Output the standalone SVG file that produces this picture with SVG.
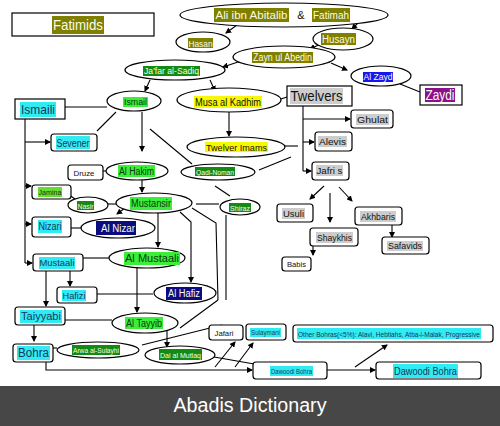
<svg xmlns="http://www.w3.org/2000/svg" width="500" height="426" viewBox="0 0 500 426">
<defs>
<marker id="ah" markerWidth="6" markerHeight="6" refX="5" refY="3" orient="auto" markerUnits="userSpaceOnUse">
<path d="M0,0 L6,3 L0,6 z" fill="#000"/>
</marker>
<style>
.n{fill:#fff;stroke:#000;stroke-width:1.2}
.l{stroke:#000;stroke-width:1.1;fill:none}
.a{marker-end:url(#ah)}
text{font-family:"Liberation Sans",Arial,sans-serif;text-anchor:middle}
.ol{fill:#7f7f00}.gr{fill:#3aee3a}.dg{fill:#138a13}.cy{fill:#30ecf2}.ye{fill:#f8f800}.gy{fill:#cdcdcd}.nv{fill:#0c0c80}.bl{fill:#1616f0}.pu{fill:#8a1090}.lg{fill:#66dd33}
.tw{fill:#fbfbe8}.tk{fill:#111}.tc{fill:#17375e}.tg{fill:#0c3a0c}
</style>
</defs>
<rect x="0" y="0" width="500" height="426" fill="#fff"/>

<g id="connectors">
<path class="l a" d="M237,25 L226,33"/>
<path class="l a" d="M358,23 L352,29"/>
<path class="l a" d="M327,41 L310,49"/>
<path class="l a" d="M241,61 L223,67"/>
<path class="l a" d="M331,63 L347,70"/>
<path class="l" d="M400,84 L420,92"/>
<path class="l a" d="M150,80 L145,91"/>
<path class="l a" d="M210,80 L215,91"/>
<path class="l" d="M65,107 L107,107"/>
<path class="l" d="M281,99 L287,97"/>
<path class="l a" d="M229,112 L229,136"/>
<path class="l" d="M303,106 L303,171"/>
<path class="l a" d="M303,119 L350,119"/>
<path class="l a" d="M303,142 L314,142"/>
<path class="l a" d="M303,171 L311,171"/>
<path class="l" d="M285,146 L298,146"/>
<path class="l" d="M259,170 L291,157"/>
<path class="l" d="M150,129 L192,164"/>
<path class="l" d="M215,186 L230,196"/>
<path class="l" d="M196,204 L219,204"/>
<path class="l" d="M116,112 L97,131"/>
<path class="l a" d="M142,112 L142,151"/>
<path class="l" d="M25,119 L25,263"/>
<path class="l a" d="M25,263 L32,263"/>
<path class="l a" d="M25,142 L50,142"/>
<path class="l a" d="M25,186 L31,186"/>
<path class="l a" d="M25,224 L31,224"/>
<path class="l" d="M103,171 L106,171"/>
<path class="l a" d="M142,180 L142,192"/>
<path class="l" d="M65,192 L75,199"/>
<path class="l" d="M108,204 L117,204"/>
<path class="l a" d="M125,208 L117,214"/>
<path class="l" d="M71,228 L82,228"/>
<path class="l a" d="M158,213 L158,247"/>
<path class="l a" d="M180,212 L191,222 L191,282"/>
<path class="l" d="M192,208 L216,223 L218,300"/>
<path class="l" d="M226,215 L226,300"/>
<path class="l" d="M218,300 L180,328"/>
<path class="l" d="M222,325 L142,345"/>
<path class="l" d="M83,258 L109,258"/>
<path class="l a" d="M70,271 L70,286"/>
<path class="l a" d="M46,271 L46,306"/>
<path class="l" d="M97,294 L153,294"/>
<path class="l a" d="M137,267 L137,312"/>
<path class="l" d="M65,320 L112,320"/>
<path class="l a" d="M34,325 L34,341"/>
<path class="l" d="M53,348 L57,348"/>
<path class="l a" d="M167,330 L167,347"/>
<path class="l a" d="M46,362 L46,370 L252,370"/>
<path class="l a" d="M327,370 L375,370"/>
<path class="l" d="M214,357 L260,365"/>
<path class="l a" d="M215,367 L235,342"/>
<path class="l a" d="M235,367 L253,343"/>
<path class="l a" d="M355,367 L387,345"/>
<path class="l a" d="M324,186 L310,199"/>
<path class="l a" d="M339,187 L352,201"/>
<path class="l a" d="M330,193 L330,222"/>
<path class="l a" d="M392,225 L392,237"/>
<path class="l a" d="M313,246 L313,255"/>
</g>

<g id="fatimids"><rect class="n" x="12" y="13" width="142" height="23"/><rect class="ol" x="52" y="16" width="52" height="18"/><text class="tw" x="78" y="30" font-size="15" textLength="50" lengthAdjust="spacingAndGlyphs">Fatimids</text></g>
<g id="ali"><ellipse class="n" cx="284" cy="15" rx="104" ry="12"/><rect class="ol" x="214" y="8" width="75" height="14"/><text class="tw" x="251.5" y="19" font-size="11.5" textLength="72" lengthAdjust="spacingAndGlyphs">Ali ibn Abitalib</text><text class="tk" x="301" y="19" font-size="11">&amp;</text><rect class="ol" x="312" y="8" width="38" height="14"/><text class="tw" x="331" y="19" font-size="11.5" textLength="36" lengthAdjust="spacingAndGlyphs">Fatimah</text></g>
<g id="hasan"><ellipse class="n" cx="203" cy="42" rx="27" ry="10"/><rect class="ol" x="188" y="38" width="25" height="10"/><text class="tw" x="200.5" y="46.5" font-size="9" textLength="24" lengthAdjust="spacingAndGlyphs">Hasan</text></g>
<g id="husayn"><ellipse class="n" cx="343" cy="39" rx="30" ry="11"/><rect class="ol" x="321" y="33" width="35" height="12"/><text class="tw" x="338.5" y="42.5" font-size="10" textLength="33" lengthAdjust="spacingAndGlyphs">Husayn</text></g>
<g id="zayn"><ellipse class="n" cx="284" cy="57" rx="51" ry="11"/><rect class="ol" x="252" y="52" width="61" height="11"/><text class="tw" x="282.5" y="61" font-size="10" textLength="59" lengthAdjust="spacingAndGlyphs">Zayn ul Abedin</text></g>
<g id="jafar"><ellipse class="n" cx="175" cy="70" rx="50" ry="10"/><rect class="dg" x="143" y="66" width="57" height="10"/><text class="tw" x="171.5" y="74" font-size="9" textLength="55" lengthAdjust="spacingAndGlyphs">Ja'far al-Sadiq</text></g>
<g id="ismail"><ellipse class="n" cx="134" cy="101" rx="27" ry="10"/><rect class="gr" x="123" y="97" width="25" height="10"/><text class="tg" x="135.5" y="105" font-size="9" textLength="23" lengthAdjust="spacingAndGlyphs">Ismail</text></g>
<g id="ismaili"><rect class="n" x="15" y="99" width="50" height="20"/><rect class="cy" x="20" y="102" width="36" height="15"/><text class="tc" x="38" y="114" font-size="13" textLength="34" lengthAdjust="spacingAndGlyphs">Ismaili</text></g>
<g id="musa"><ellipse class="n" cx="229" cy="100" rx="52" ry="12"/><rect class="ye" x="194" y="96" width="68" height="12"/><text class="tk" x="228" y="105.5" font-size="10" textLength="66" lengthAdjust="spacingAndGlyphs">Musa al Kadhim</text></g>
<g id="twelvers"><rect class="n" x="287" y="86" width="65" height="20"/><rect class="gy" x="290" y="88" width="53" height="16"/><text class="tk" x="316.5" y="100.5" font-size="14" textLength="52" lengthAdjust="spacingAndGlyphs">Twelvers</text></g>
<g id="alzayd"><ellipse class="n" cx="381" cy="76" rx="30" ry="10"/><rect class="bl" x="363" y="72" width="30" height="10"/><text class="tw" x="378" y="80" font-size="9" textLength="29" lengthAdjust="spacingAndGlyphs">Al Zayd</text></g>
<g id="zaydi"><rect class="n" x="420" y="85" width="42" height="20"/><rect class="pu" x="425" y="88" width="30" height="14"/><text class="tw" x="440" y="99.5" font-size="14" textLength="29" lengthAdjust="spacingAndGlyphs">Zaydi</text></g>
<g id="ghulat"><rect class="n" x="351" y="110" width="42" height="18" rx="3"/><rect class="gy" x="356" y="114" width="33" height="11"/><text class="tk" x="372.5" y="122.5" font-size="9" textLength="31" lengthAdjust="spacingAndGlyphs">Ghulat</text></g>
<g id="alevis"><rect class="n" x="315" y="132" width="37" height="19" rx="3"/><rect class="gy" x="318" y="136" width="29" height="11"/><text class="tk" x="332.5" y="144.5" font-size="9" textLength="27" lengthAdjust="spacingAndGlyphs">Alevis</text></g>
<g id="jafris"><rect class="n" x="312" y="162" width="37" height="18" rx="3"/><rect class="gy" x="316" y="165" width="27" height="11"/><text class="tk" x="329.5" y="173.5" font-size="9" textLength="26" lengthAdjust="spacingAndGlyphs">Jafri s</text></g>
<g id="twelverimams"><ellipse class="n" cx="236" cy="147" rx="49" ry="10"/><rect class="ye" x="205" y="142" width="63" height="10"/><text class="tk" x="236.5" y="150.5" font-size="9.5" textLength="61" lengthAdjust="spacingAndGlyphs">Twelver Imams</text></g>
<g id="qadinoman"><ellipse class="n" cx="218" cy="172" rx="37" ry="8"/><rect class="dg" x="195" y="167" width="40" height="9"/><text class="tw" x="215" y="174.5" font-size="7" textLength="38" lengthAdjust="spacingAndGlyphs">Qadi-Noman</text></g>
<g id="shiraz"><ellipse class="n" cx="240" cy="207" rx="20" ry="8"/><rect class="dg" x="229" y="203" width="22" height="9"/><text class="tw" x="240" y="210.5" font-size="7" textLength="20" lengthAdjust="spacingAndGlyphs">Shiraz</text></g>
<g id="usuli"><rect class="n" x="277" y="204" width="36" height="18" rx="3"/><rect class="gy" x="282" y="208" width="23" height="11"/><text class="tk" x="293.5" y="216.5" font-size="9" textLength="21" lengthAdjust="spacingAndGlyphs">Usuli</text></g>
<g id="akhbaris"><rect class="n" x="355" y="207" width="47" height="18" rx="3"/><rect class="gy" x="360" y="211" width="36" height="11"/><text class="tk" x="378" y="219.5" font-size="9" textLength="34" lengthAdjust="spacingAndGlyphs">Akhbaris</text></g>
<g id="shaykhis"><rect class="n" x="310" y="228" width="48" height="18" rx="3"/><rect class="gy" x="316" y="232" width="37" height="11"/><text class="tk" x="334.5" y="240.5" font-size="9" textLength="35" lengthAdjust="spacingAndGlyphs">Shaykhis</text></g>
<g id="safavids"><rect class="n" x="382" y="237" width="47" height="17" rx="3"/><rect class="gy" x="387" y="241" width="36" height="10"/><text class="tk" x="405" y="249" font-size="9" textLength="34" lengthAdjust="spacingAndGlyphs">Safavids</text></g>
<g id="babis"><rect class="n" x="282" y="257" width="29" height="14" rx="3"/><text class="tk" x="296.5" y="267" font-size="7" textLength="19" lengthAdjust="spacingAndGlyphs">Babis</text></g>
<g id="sevener"><rect class="n" x="51" y="134" width="46" height="17" rx="3"/><rect class="cy" x="56" y="136" width="34" height="13"/><text class="tc" x="73" y="146.5" font-size="10" textLength="33" lengthAdjust="spacingAndGlyphs">Sevener</text></g>
<g id="druze"><rect class="n" x="68" y="165" width="35" height="15" rx="3"/><text class="tk" x="84" y="175.5" font-size="7.5" textLength="21" lengthAdjust="spacingAndGlyphs">Druze</text></g>
<g id="alhakim"><ellipse class="n" cx="137" cy="171" rx="31" ry="9"/><rect class="gr" x="118" y="165" width="37" height="12"/><text class="tg" x="136.5" y="174.5" font-size="10" textLength="35" lengthAdjust="spacingAndGlyphs">Al Hakim</text></g>
<g id="jamina"><rect class="n" x="32" y="185" width="39" height="14" rx="3"/><rect class="lg" x="38" y="187" width="24" height="10"/><text class="tg" x="50" y="194.5" font-size="6.5" textLength="23" lengthAdjust="spacingAndGlyphs">Jamina</text></g>
<g id="nasir"><ellipse class="n" cx="88" cy="205" rx="20" ry="8"/><rect class="dg" x="77" y="201" width="17" height="9"/><text class="tw" x="85.5" y="208.5" font-size="6.5" textLength="16" lengthAdjust="spacingAndGlyphs">Nasir</text></g>
<g id="mustansir"><ellipse class="n" cx="154" cy="203" rx="38" ry="10"/><rect class="gr" x="130" y="197" width="42" height="13"/><text class="tg" x="151" y="207" font-size="11" textLength="40" lengthAdjust="spacingAndGlyphs">Mustansir</text></g>
<g id="nizari"><rect class="n" x="32" y="217" width="39" height="20" rx="3"/><rect class="cy" x="38" y="220" width="24" height="13"/><text class="tc" x="50" y="230" font-size="10" textLength="23" lengthAdjust="spacingAndGlyphs">Nizari</text></g>
<g id="alnizar"><ellipse class="n" cx="118" cy="228" rx="37" ry="10"/><rect class="nv" x="96" y="221" width="40" height="14"/><text class="tw" x="118" y="232" font-size="10" textLength="34" lengthAdjust="spacingAndGlyphs">Al Nizar</text></g>
<g id="mustaali"><rect class="n" x="33" y="254" width="50" height="17" rx="3"/><rect class="cy" x="39" y="257" width="36" height="12"/><text class="tc" x="57" y="266" font-size="9.5" textLength="35" lengthAdjust="spacingAndGlyphs">Mustaali</text></g>
<g id="almustaali"><ellipse class="n" cx="147" cy="258" rx="38" ry="10"/><rect class="gr" x="124" y="252" width="56" height="13"/><text class="tg" x="152" y="262" font-size="10" textLength="54" lengthAdjust="spacingAndGlyphs">Al Mustaali</text></g>
<g id="hafizi"><rect class="n" x="57" y="287" width="40" height="16" rx="3"/><rect class="cy" x="62" y="290" width="24" height="11"/><text class="tc" x="74" y="298.5" font-size="9.5" textLength="23" lengthAdjust="spacingAndGlyphs">Hafizi</text></g>
<g id="alhafiz"><ellipse class="n" cx="185" cy="293" rx="31" ry="10"/><rect class="nv" x="166" y="287" width="36" height="13"/><text class="tw" x="184" y="297" font-size="10" textLength="32" lengthAdjust="spacingAndGlyphs">Al Hafiz</text></g>
<g id="taiyyabi"><rect class="n" x="15" y="307" width="50" height="18" rx="3"/><rect class="cy" x="20" y="310" width="42" height="13"/><text class="tc" x="41" y="320" font-size="10" textLength="40" lengthAdjust="spacingAndGlyphs">Taiyyabi</text></g>
<g id="altayyib"><ellipse class="n" cx="145" cy="323" rx="33" ry="10"/><rect class="gr" x="125" y="317" width="38" height="12"/><text class="tg" x="144" y="326.5" font-size="10" textLength="36" lengthAdjust="spacingAndGlyphs">Al Tayyib</text></g>
<g id="bohra"><rect class="n" x="13" y="344" width="40" height="18" rx="3"/><rect class="cy" x="17" y="346" width="33" height="14"/><text class="tc" x="33.5" y="357" font-size="12" textLength="31" lengthAdjust="spacingAndGlyphs">Bohra</text></g>
<g id="arwa"><ellipse class="n" cx="98" cy="350" rx="41" ry="8"/><rect class="dg" x="72" y="345" width="48" height="10"/><text class="tw" x="96" y="352.5" font-size="7" textLength="46" lengthAdjust="spacingAndGlyphs">Arwa al-Sulayhi</text></g>
<g id="daialmutlaq"><ellipse class="n" cx="180" cy="355" rx="35" ry="9"/><rect class="dg" x="159" y="349" width="43" height="11"/><text class="tw" x="180.5" y="357.5" font-size="8" textLength="41" lengthAdjust="spacingAndGlyphs">Dai al Mutlaq</text></g>
<g id="jafari"><rect class="n" x="209" y="325" width="34" height="15" rx="3"/><text class="tk" x="224" y="335.5" font-size="7.5" textLength="19" lengthAdjust="spacingAndGlyphs">Jafari</text></g>
<g id="sulaymani"><rect class="n" x="246" y="324" width="40" height="16" rx="3"/><rect class="cy" x="250" y="328" width="31" height="9"/><text class="tc" x="265.5" y="335" font-size="7" textLength="29" lengthAdjust="spacingAndGlyphs">Sulaymani</text></g>
<g id="otherbohras"><rect class="n" x="293" y="325" width="200" height="17" rx="3"/><rect class="cy" x="297" y="328" width="184" height="11"/><text class="tc" x="389" y="336.5" font-size="6.5" textLength="182" lengthAdjust="spacingAndGlyphs">Other Bohras(&lt;5%): Alavi, Hebtiahs,  Atba-i-Malak, Progressive</text></g>
<g id="dawoodismall"><rect class="n" x="253" y="362" width="74" height="17" rx="3"/><rect class="cy" x="270" y="366" width="43" height="10"/><text class="tc" x="291.5" y="373.5" font-size="6.5" textLength="41" lengthAdjust="spacingAndGlyphs">Dawoodi Bohra</text></g>
<g id="dawoodibig"><rect class="n" x="376" y="362" width="105" height="17" rx="3"/><rect class="cy" x="393" y="364" width="65" height="14"/><text class="tc" x="425.5" y="375" font-size="11" textLength="63" lengthAdjust="spacingAndGlyphs">Dawoodi Bohra</text></g>

<g id="caption"><rect x="0" y="386" width="500" height="40" fill="#474747"/><text x="250" y="412" font-size="20" fill="#fff" textLength="153" lengthAdjust="spacingAndGlyphs">Abadis Dictionary</text></g>
</svg>
